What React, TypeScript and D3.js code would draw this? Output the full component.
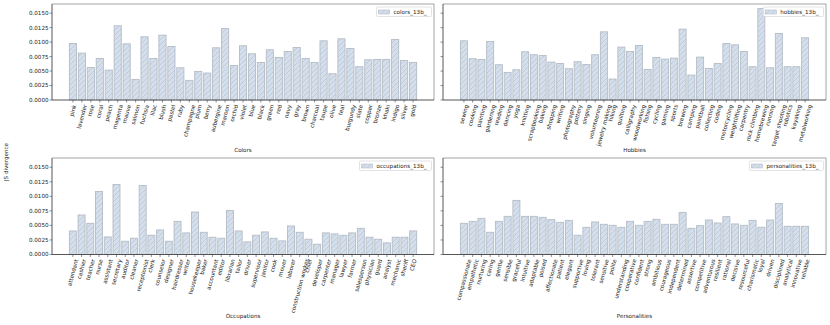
import React, { useRef, useEffect } from "react";
import * as d3 from "d3";

const colorNames = ["pink", "lavender", "rose", "coral", "peach", "magenta", "mauve", "salmon", "fuchsia", "lilac", "blush", "pastel", "ruby", "champagne", "plum", "berry", "aubergine", "maroon", "orchid", "violet", "blue", "black", "green", "red", "navy", "gray", "brown", "charcoal", "taupe", "olive", "teal", "burgundy", "slate", "copper", "bronze", "khaki", "indigo", "silver", "gold"];
const colorValues = [0.00977, 0.0081, 0.00563, 0.00718, 0.00517, 0.01282, 0.00971, 0.00356, 0.01092, 0.00718, 0.01121, 0.00925, 0.00557, 0.00339, 0.00494, 0.00466, 0.00902, 0.01236, 0.00598, 0.00937, 0.00799, 0.00649, 0.00868, 0.00736, 0.00839, 0.00908, 0.00718, 0.00649, 0.01023, 0.00454, 0.01057, 0.00891, 0.00575, 0.00695, 0.00701, 0.00701, 0.01046, 0.00684, 0.00649];

const hobbyNames = ["sewing", "cooking", "painting", "gardening", "reading", "dancing", "yoga", "knitting", "scrapbooking", "baking", "shopping", "writing", "photography", "pottery", "singing", "volunteering", "jewelry making", "hiking", "quilting", "calligraphy", "woodworking", "fishing", "cycling", "gaming", "sports", "brewing", "camping", "paintball", "collecting", "coding", "motorcycling", "weightlifting", "carpentry", "rock climbing", "homebrewing", "running", "target shooting", "robotics", "kayaking", "metalworking"];
const hobbyValues = [0.01023, 0.00713, 0.00701, 0.01011, 0.00609, 0.00477, 0.00523, 0.00833, 0.00782, 0.0077, 0.00655, 0.00632, 0.0054, 0.00661, 0.00615, 0.00782, 0.01178, 0.00362, 0.00914, 0.00839, 0.00943, 0.00529, 0.00736, 0.00707, 0.00724, 0.01224, 0.00431, 0.00741, 0.00546, 0.00632, 0.00977, 0.00954, 0.00839, 0.00575, 0.0158, 0.00557, 0.01149, 0.00575, 0.00575, 0.01075];

const occupationNames = ["attendant", "cashier", "teacher", "nurse", "assistant", "secretary", "auditor", "cleaner", "receptionist", "clerk", "counselor", "designer", "hairdresser", "writer", "housekeeper", "baker", "accountant", "editor", "librarian", "tailor", "driver", "supervisor", "janitor", "cook", "mover", "laborer", "construction worker", "chief", "developer", "carpenter", "manager", "lawyer", "farmer", "salesperson", "physician", "guard", "analyst", "mechanic", "sheriff", "CEO"];
const occupationValues = [0.00405, 0.00679, 0.00536, 0.01084, 0.00302, 0.01203, 0.00228, 0.00279, 0.01186, 0.00331, 0.00422, 0.00228, 0.0057, 0.00371, 0.0073, 0.00382, 0.00297, 0.00279, 0.00758, 0.00405, 0.00217, 0.00331, 0.00388, 0.00279, 0.00234, 0.0049, 0.00382, 0.00262, 0.00177, 0.00371, 0.00354, 0.00331, 0.00371, 0.0045, 0.00297, 0.00262, 0.002, 0.00297, 0.00297, 0.00405];

const personalityNames = ["compassionate", "empathetic", "nurturing", "caring", "gentle", "sensible", "graceful", "intuitive", "adaptable", "poised", "affectionate", "patient", "elegant", "supportive", "loving", "tolerant", "sensitive", "polite", "understanding", "cooperative", "confident", "strong", "ambitious", "courageous", "independent", "determined", "assertive", "competitive", "adventurous", "resilient", "rational", "decisive", "resourceful", "charismatic", "loyal", "driven", "disciplined", "analytical", "innovative", "reliable"];
const personalityValues = [0.00536, 0.0057, 0.00622, 0.00382, 0.0057, 0.00656, 0.0093, 0.00656, 0.00656, 0.00639, 0.00599, 0.00553, 0.00587, 0.00331, 0.00468, 0.00559, 0.00519, 0.00502, 0.00468, 0.0057, 0.00502, 0.0057, 0.00605, 0.00519, 0.00519, 0.00724, 0.0045, 0.00496, 0.00593, 0.00542, 0.0065, 0.00525, 0.00502, 0.00587, 0.00468, 0.00593, 0.00878, 0.00485, 0.00485, 0.00485];

const yTicks = [0, 0.0025, 0.005, 0.0075, 0.01, 0.0125, 0.015];

const panels = [
  { names: colorNames, values: colorValues, legend: "colors_13b_", title: "Colors", x0: 52, x1: 434, y0: 4, y1: 100, titleGap: 52, showY: true },
  { names: hobbyNames, values: hobbyValues, legend: "hobbies_13b_", title: "Hobbies", x0: 443, x1: 826, y0: 4, y1: 100, titleGap: 52, showY: false },
  { names: occupationNames, values: occupationValues, legend: "occupations_13b_", title: "Occupations", x0: 52, x1: 434, y0: 158, y1: 254.5, titleGap: 63.5, showY: true },
  { names: personalityNames, values: personalityValues, legend: "personalities_13b_", title: "Personalities", x0: 443, x1: 826, y0: 158, y1: 254.5, titleGap: 63.5, showY: false },
];

const FONT = "DejaVu Sans";
const FS = 5.6;
const FILL = "#d5dfeb";
const EDGE = "#b4bcc6";
const HATCH = "#a6b6cb";
const ROT = 75;

const App = () => {
  const svgRef = useRef(null);

  useEffect(() => {
    const svg = d3.select(svgRef.current);
    svg.selectAll("*").remove();

    const defs = svg.append("defs");
    const pat = defs
      .append("pattern")
      .attr("id", "hatch")
      .attr("patternUnits", "userSpaceOnUse")
      .attr("width", 5)
      .attr("height", 5);
    pat.append("rect").attr("width", 5).attr("height", 5).attr("fill", FILL);
    pat
      .append("path")
      .attr("d", "M0,5 L5,0 M-1,1 L1,-1 M4,6 L6,4")
      .attr("stroke", HATCH)
      .attr("stroke-width", 0.5);

    const yMax = 0.0158 * 1.05;
    const rad = (ROT * Math.PI) / 180;

    panels.forEach((p) => {
      const n = p.names.length;
      const lo = -0.4;
      const hi = n - 0.6;
      const m = (hi - lo) * 0.05;
      const x = d3.scaleLinear().domain([lo - m, hi + m]).range([p.x0, p.x1]);
      const y = d3.scaleLinear().domain([0, yMax]).range([p.y1, p.y0]);
      const g = svg.append("g");

      g.selectAll("rect.bar")
        .data(p.values)
        .join("rect")
        .attr("class", "bar")
        .attr("x", (d, i) => x(i - 0.4))
        .attr("width", x(0.8) - x(0))
        .attr("y", (d) => y(d))
        .attr("height", (d) => y(0) - y(d))
        .attr("fill", "url(#hatch)")
        .attr("stroke", EDGE)
        .attr("stroke-width", 0.9);

      // spines
      g.append("line").attr("x1", p.x0).attr("x2", p.x1).attr("y1", p.y0).attr("y2", p.y0).attr("stroke", "#9a9a9a").attr("stroke-width", 0.9);
      g.append("line").attr("x1", p.x1).attr("x2", p.x1).attr("y1", p.y0).attr("y2", p.y1).attr("stroke", "#9a9a9a").attr("stroke-width", 0.9);
      g.append("line").attr("x1", p.x0).attr("x2", p.x0).attr("y1", p.y0).attr("y2", p.y1).attr("stroke", "#444").attr("stroke-width", 0.9);
      g.append("line").attr("x1", p.x0).attr("x2", p.x1).attr("y1", p.y1).attr("y2", p.y1).attr("stroke", "#444").attr("stroke-width", 0.9);

      // y ticks
      yTicks.forEach((t) => {
        g.append("line").attr("x1", p.x0 - 2.5).attr("x2", p.x0).attr("y1", y(t)).attr("y2", y(t)).attr("stroke", "#444").attr("stroke-width", 0.6);
        if (p.showY) {
          g.append("text")
            .attr("x", p.x0 - 3.5)
            .attr("y", y(t))
            .attr("dy", "0.35em")
            .attr("text-anchor", "end")
            .attr("font-family", FONT)
            .attr("font-size", FS)
            .attr("fill", "#222")
            .text(t.toFixed(4));
        }
      });

      // x ticks, labels centred on the tick like matplotlib ha="center"
      p.names.forEach((name, i) => {
        const cx = x(i);
        g.append("line").attr("x1", cx).attr("x2", cx).attr("y1", p.y1).attr("y2", p.y1 + 2.5).attr("stroke", "#444").attr("stroke-width", 0.6);
        const t = g
          .append("text")
          .attr("text-anchor", "middle")
          .attr("dy", "0.35em")
          .attr("font-family", FONT)
          .attr("font-size", FS)
          .attr("fill", "#222")
          .text(name);
        const L = t.node().getComputedTextLength();
        const H = FS * 1.1;
        const vy = L * Math.sin(rad) + H * Math.cos(rad);
        t.attr("transform", `translate(${cx},${p.y1 + 4 + vy / 2}) rotate(${-ROT})`);
      });

      // axis title
      g.append("text")
        .attr("x", (p.x0 + p.x1) / 2)
        .attr("y", p.y1 + p.titleGap)
        .attr("text-anchor", "middle")
        .attr("font-family", FONT)
        .attr("font-size", FS)
        .attr("fill", "#222")
        .text(p.title);

      // legend
      const lg = g.append("g");
      const txt = lg
        .append("text")
        .attr("font-family", FONT)
        .attr("font-size", FS)
        .attr("fill", "#222")
        .text(p.legend);
      const tw = txt.node().getComputedTextLength();
      const bw = tw + 22;
      const bx = p.x1 - 2.5 - bw;
      const by = p.y0 + 3;
      lg.insert("rect", "text")
        .attr("x", bx)
        .attr("y", by)
        .attr("width", bw)
        .attr("height", 9.5)
        .attr("rx", 1)
        .attr("fill", "white")
        .attr("fill-opacity", 0.85)
        .attr("stroke", "#d0d0d0")
        .attr("stroke-width", 0.6);
      lg.insert("rect", "text")
        .attr("x", bx + 2)
        .attr("y", by + 3)
        .attr("width", 11)
        .attr("height", 4)
        .attr("fill", "url(#hatch)")
        .attr("stroke", EDGE)
        .attr("stroke-width", 0.6);
      txt.attr("x", bx + 17).attr("y", by + 4.75).attr("dy", "0.35em");
    });

    svg.append("text")
      .attr("transform", "translate(8,162) rotate(-90)")
      .attr("text-anchor", "middle")
      .attr("font-family", FONT)
      .attr("font-size", FS)
      .attr("fill", "#222")
      .text("JS divergence");
  }, []);

  return <svg ref={svgRef} width={830} height={325} style={{ position: "absolute", left: 0, top: 0 }}></svg>;
};

export default App;
